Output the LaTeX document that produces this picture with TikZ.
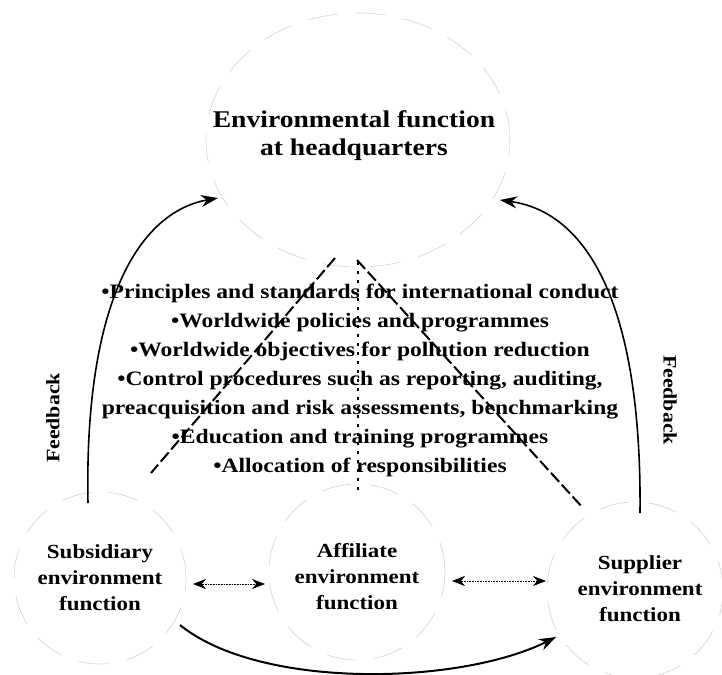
\documentclass[tikz,border=0pt]{standalone}
\usepackage{fontspec}
\setmainfont{Liberation Serif}[FakeStretch=1.15]
\usetikzlibrary{arrows.meta,shapes.geometric}
\begin{document}
\begin{tikzpicture}[x=1pt,y=-1pt,
  ring/.style={draw=gray!35,line width=0.6pt,dash pattern=on 30pt off 18pt},
  lbl/.style={align=center,font=\bfseries\fontsize{20}{26}\selectfont,inner sep=0pt},
  fb/.style={font=\bfseries\fontsize{19}{22}\selectfont,inner sep=0pt},
  tip/.style={-{Stealth[length=17pt,width=12pt]}},
  dtip/.style={{Stealth[length=13pt,width=10pt]}-{Stealth[length=13pt,width=10pt]}},
  ray/.style={line width=2pt,dash pattern=on 12pt off 4pt},
  midray/.style={line width=1.2pt,dash pattern=on 3pt off 6pt},
  curve/.style={line width=1.6pt}]
\useasboundingbox (0,0) rectangle (722,674);
% circles
\node[ring,ellipse,minimum width=304pt,minimum height=254pt] (hq) at (358,140) {};
\node[ring,circle,minimum size=172pt] (sub) at (100,578) {};
\node[ring,circle,minimum size=176pt] (aff) at (357,572) {};
\node[ring,circle,minimum size=176pt] (sup) at (635,590) {};
% labels
\node[align=center,font=\bfseries\fontsize{24}{28}\selectfont,inner sep=0pt] (hqt) at (354,136) {Environmental function\\at headquarters};
\node[lbl] (subt) at (100,578) {Subsidiary\\environment\\function};
\node[lbl] (afft) at (357,577) {Affiliate\\environment\\function};
\node[lbl] (supt) at (640,589) {Supplier\\environment\\function};
\node[align=center,font=\bfseries\fontsize{20.5}{29}\selectfont,inner sep=0pt] (list) at (360,380) {%
•Principles and standards for international conduct\\
•Worldwide policies and programmes\\
•Worldwide objectives for pollution reduction\\
•Control procedures such as reporting, auditing,\\
preacquisition and risk assessments, benchmarking\\
•Education and training programmes\\
•Allocation of responsibilities};
\node[fb,rotate=90] (fbl) at (53,418) {Feedback};
\node[fb,rotate=-90] (fbr) at (670,400) {Feedback};
% coordinates
\coordinate (apexl) at (335,258);
\coordinate (apexr) at (357,260);
\coordinate (apexm) at (358,262);
\coordinate (subtop) at (151,473);
\coordinate (afftop) at (358,492);
\coordinate (suptop) at (583,508);
\coordinate (subfb) at (88,503);
\coordinate (supfb) at (640,513);
\coordinate (hqin) at (218,198);
\coordinate (hqinr) at (500,200);
\coordinate (subout) at (180,625);
\coordinate (supin) at (556,637);
% rays
\draw[ray] (apexl) -- (subtop);
\draw[ray] (apexr) -- (suptop);
\draw[midray] (apexm) -- (afftop);
% feedback
\draw[curve,tip] (subfb) .. controls (84,300) and (140,212) .. (hqin);
\draw[curve,tip] (supfb) .. controls (642,300) and (585,212) .. (hqinr);
% bottom
\draw[curve,line width=2pt,tip] (subout) .. controls (260,690) and (460,685) .. (supin);
% double arrows
\coordinate (a1) at (193,584);
\coordinate (a2) at (265,584);
\coordinate (b1) at (452,581);
\coordinate (b2) at (546,581);
\draw[dtip,line width=0.6pt,densely dotted] (a1) -- (a2);
\draw[dtip,line width=0.6pt,densely dotted] (b1) -- (b2);
\end{tikzpicture}
\end{document}
